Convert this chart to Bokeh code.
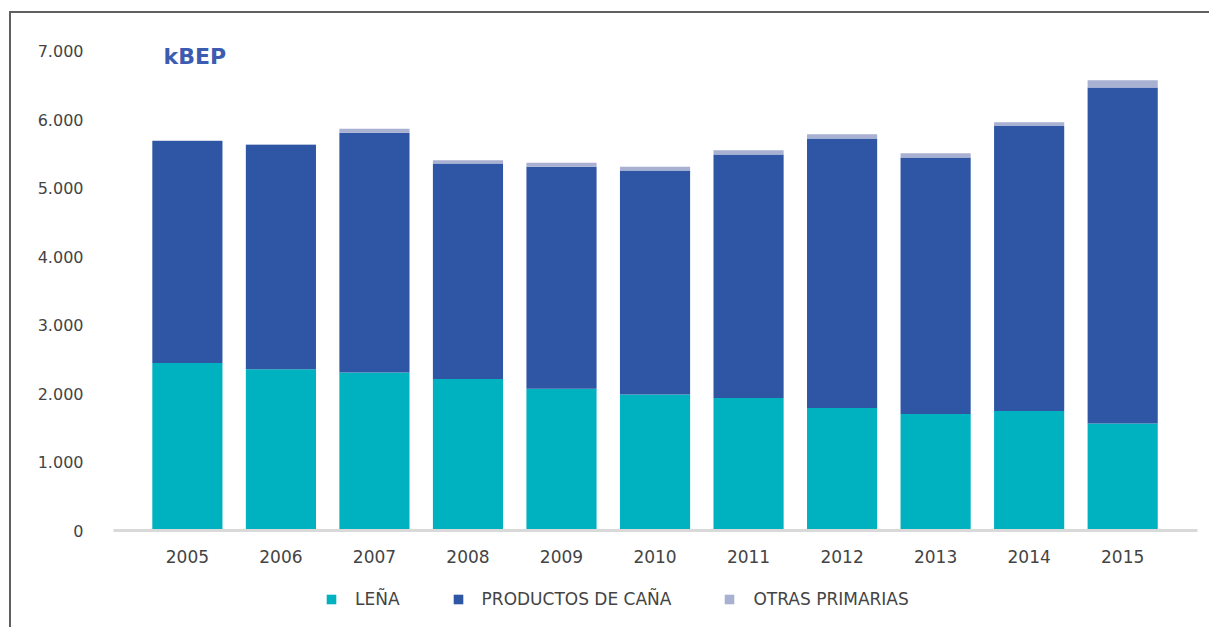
from bokeh.plotting import figure
from bokeh.models import ColumnDataSource, Legend, LegendItem, FixedTicker, Label
from bokeh.layouts import column
from bokeh.embed import file_html
from bokeh.resources import INLINE

years = ["2005", "2006", "2007", "2008", "2009", "2010", "2011", "2012", "2013", "2014", "2015"]
lena = [2445, 2353, 2305, 2211, 2071, 1987, 1933, 1787, 1700, 1743, 1564]
productos_cana = [3240, 3278, 3501, 3148, 3238, 3269, 3557, 3937, 3746, 4161, 4905]
otras_primarias = [10, 10, 58, 48, 59, 53, 63, 63, 63, 58, 103]
y_ticks = [0, 1000, 2000, 3000, 4000, 5000, 6000, 7000]
y_tick_labels = ["0", "1.000", "2.000", "3.000", "4.000", "5.000", "6.000", "7.000"]
series_names = ["LEÑA", "PRODUCTOS DE CAÑA", "OTRAS PRIMARIAS"]
colors = ["#00b1c0", "#2f55a5", "#a8b1d1"]

xs = list(range(len(years)))
b1 = [0] * len(years)
t1 = [a for a in lena]
t2 = [a + b for a, b in zip(lena, productos_cana)]
t3 = [a + b + c for a, b, c in zip(lena, productos_cana, otras_primarias)]
src = ColumnDataSource(dict(x=xs, b1=b1, t1=t1, t2=t2, t3=t3))

FONT = "DejaVu Sans"
p = figure(width=1198, height=567, output_backend="svg", toolbar_location=None,
           x_range=(-0.79, 10.80), y_range=(0, 7300),
           min_border_left=102, min_border_right=12, min_border_top=17, min_border_bottom=50)
p.outline_line_color = None
p.xgrid.visible = False
p.ygrid.visible = False

w = 0.75
r1 = p.vbar(x="x", bottom="b1", top="t1", width=w, source=src, fill_color=colors[0], line_color=None)
r2 = p.vbar(x="x", bottom="t1", top="t2", width=w, source=src, fill_color=colors[1], line_color=None)
r3 = p.vbar(x="x", bottom="t2", top="t3", width=w, source=src, fill_color=colors[2], line_color=None)

# y axis
p.yaxis.ticker = FixedTicker(ticks=y_ticks)
p.yaxis.major_label_overrides = {t: l for t, l in zip(y_ticks, y_tick_labels)}
p.yaxis.axis_line_color = None
p.yaxis.major_tick_line_color = None
p.yaxis.minor_tick_line_color = None
p.yaxis.major_label_standoff = 24
p.yaxis.major_label_text_font = FONT
p.yaxis.major_label_text_font_size = "16px"
p.yaxis.major_label_text_color = "#444444"

# x axis
p.xaxis.ticker = FixedTicker(ticks=xs)
p.xaxis.major_label_overrides = {i: y for i, y in zip(xs, years)}
p.xaxis.axis_line_color = "#d9d9d9"
p.xaxis.axis_line_width = 3
p.xaxis.major_tick_line_color = None
p.xaxis.minor_tick_line_color = None
p.xaxis.major_label_standoff = 13
p.xaxis.major_label_text_font = FONT
p.xaxis.major_label_text_font_size = "17px"
p.xaxis.major_label_text_color = "#444444"

p.add_layout(Label(x=50, y=462, x_units="screen", y_units="screen", text="kBEP",
                   text_font=FONT, text_font_size="22px", text_font_style="bold",
                   text_color="#3b5cb0"))

# legend strip below the chart (zero-height proxy bars carry the legend swatches)
p2 = figure(width=1198, height=47, output_backend="svg", toolbar_location=None,
            x_range=(0, 1), y_range=(0, 1),
            x_axis_location=None, y_axis_location=None,
            min_border_left=0, min_border_right=0, min_border_top=0, min_border_bottom=0)
p2.outline_line_color = None
p2.xgrid.visible = False
p2.ygrid.visible = False
proxies = [p2.vbar(x=[-5], top=[0], bottom=[0], width=0.1, fill_color=c, line_color=None)
           for c in colors]

legend = Legend(items=[LegendItem(label=n, renderers=[r]) for n, r in zip(series_names, proxies)],
                orientation="horizontal", location=(212, 18),
                glyph_width=12, glyph_height=12, label_standoff=18, spacing=52,
                label_text_font=FONT, label_text_font_size="17px", label_text_color="#444444",
                border_line_color=None, background_fill_alpha=0, margin=0, padding=4)
p2.add_layout(legend)

layout = column(p, p2, spacing=0)
layout.margin = (11, 0, 0, 9)
layout.styles = {"border-top": "2px solid #606060", "border-left": "2px solid #606060"}

open("out.html", "w").write(file_html(layout, INLINE))
